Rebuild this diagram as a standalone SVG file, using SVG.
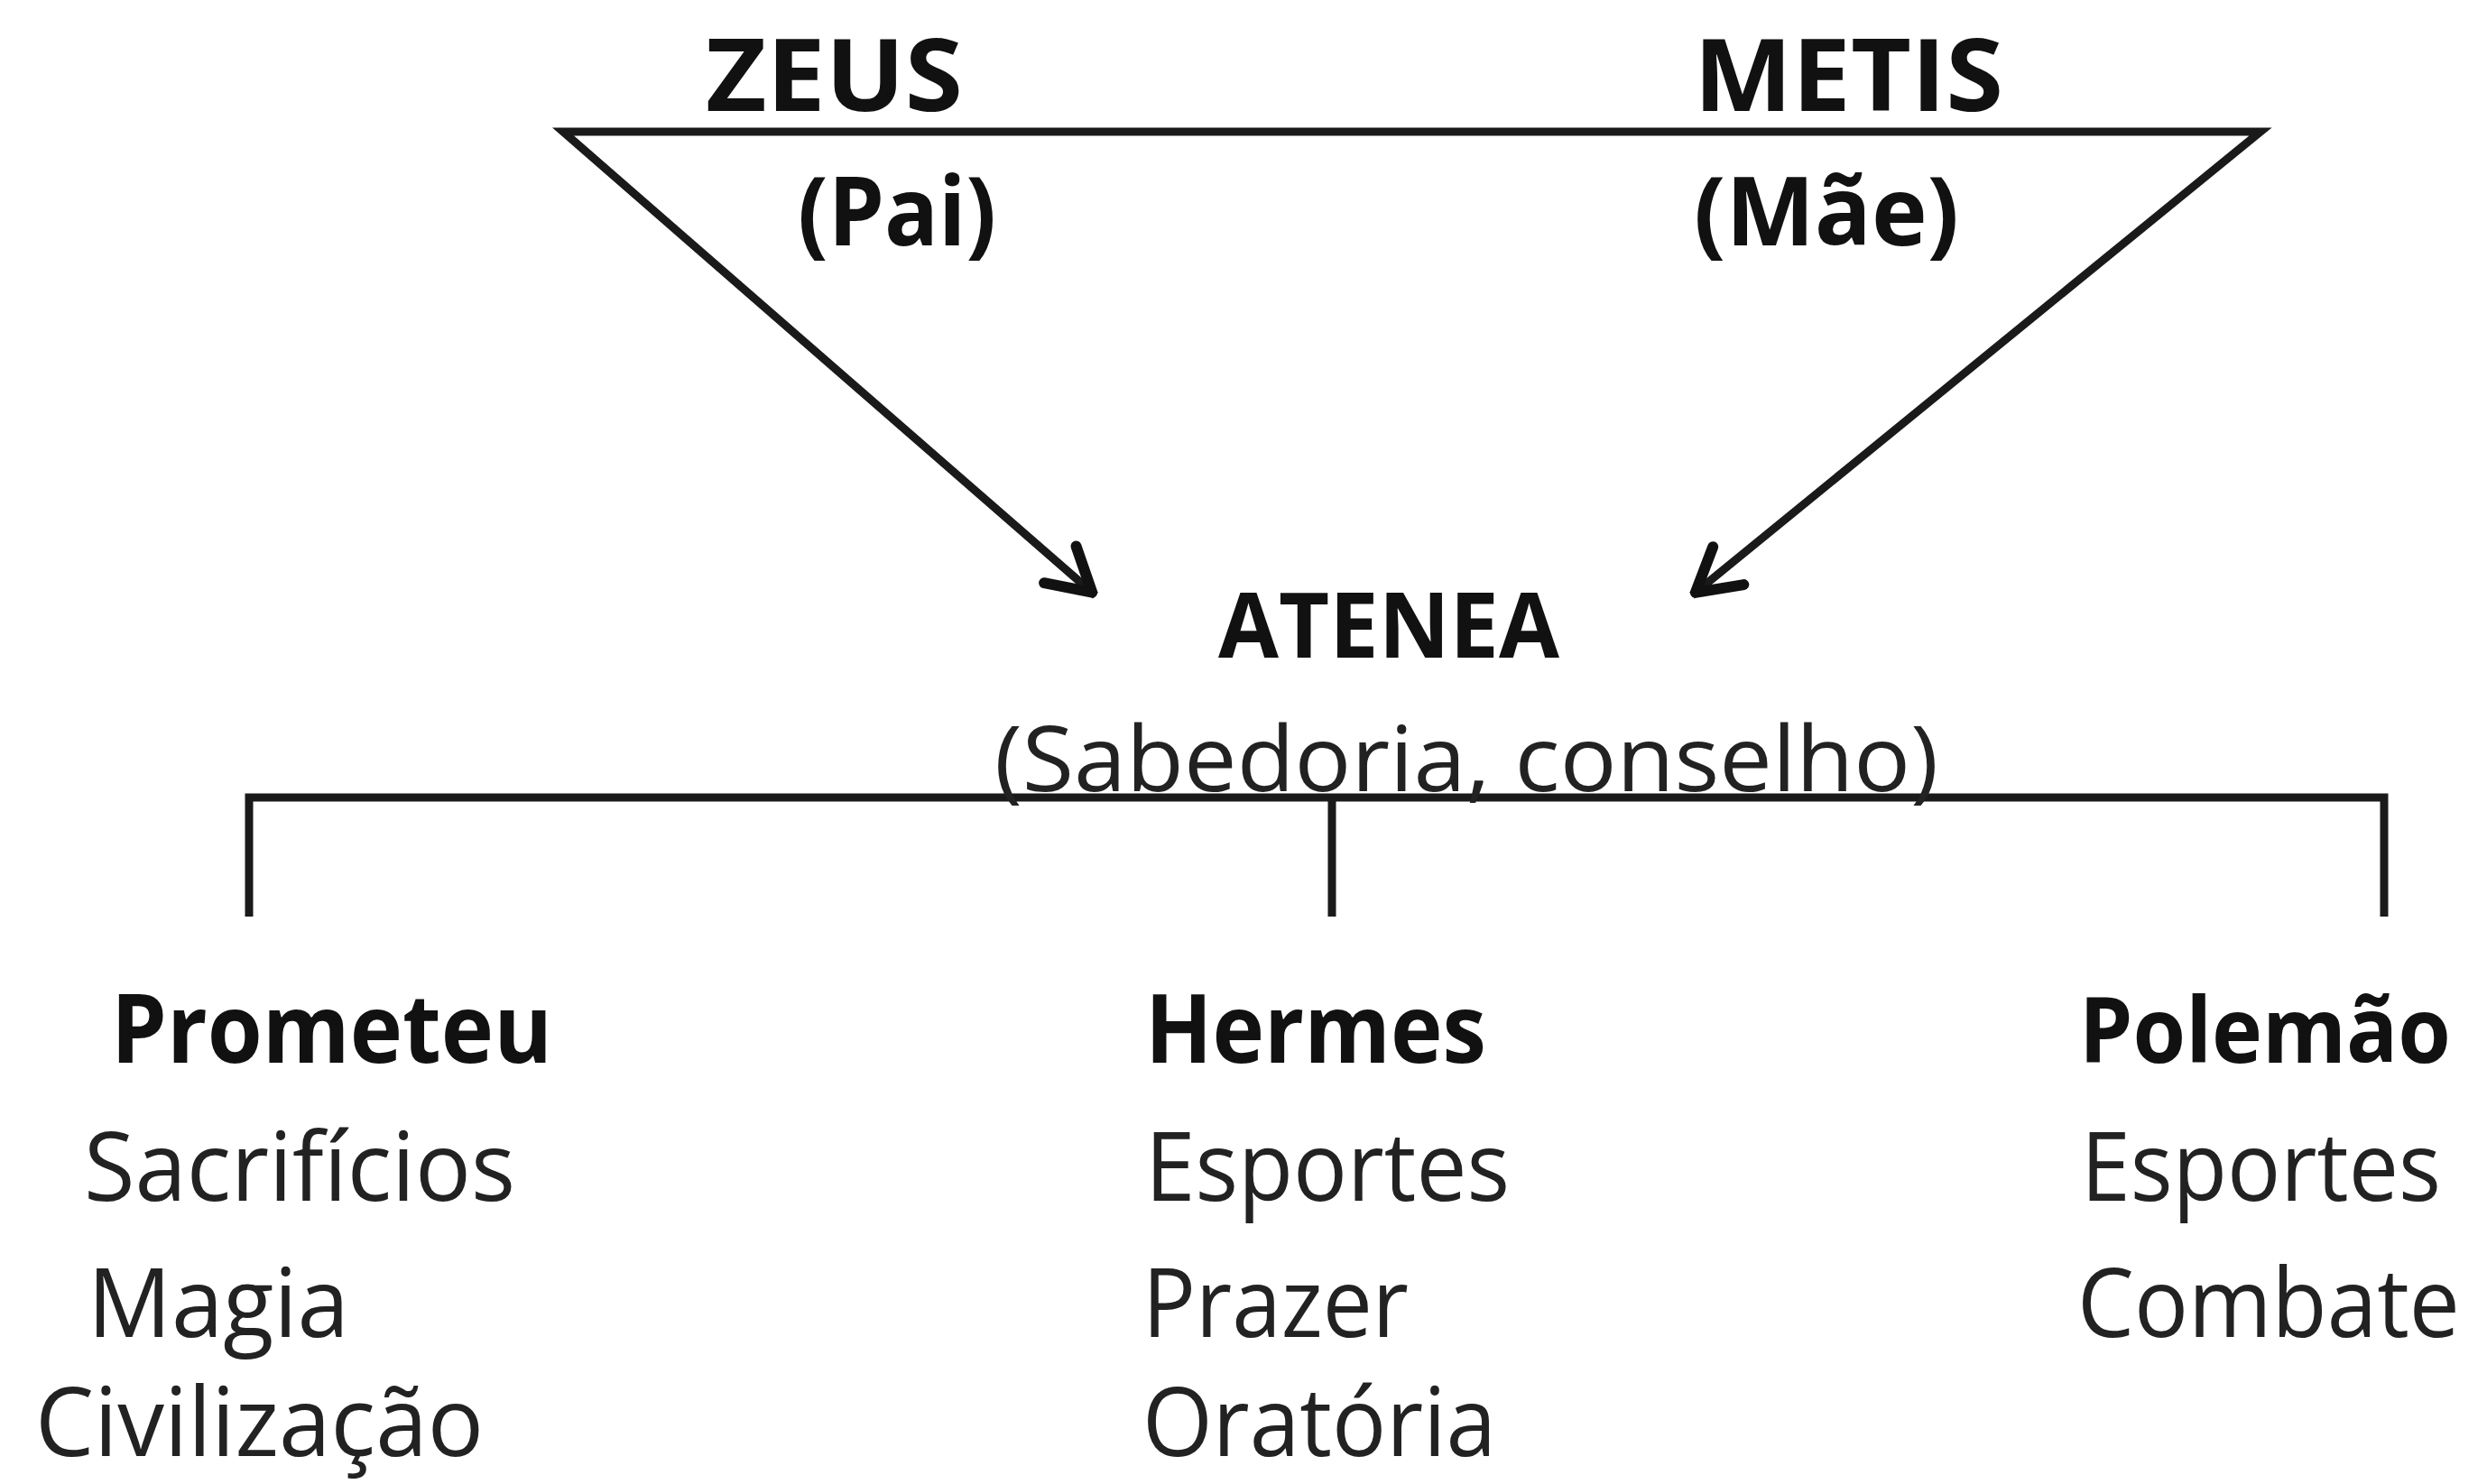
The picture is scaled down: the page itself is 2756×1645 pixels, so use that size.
<svg xmlns="http://www.w3.org/2000/svg" width="2756" height="1645" viewBox="0 0 2756 1645">
<style>
text{font-family:"Open Sans","Noto Sans","Liberation Sans",sans-serif;font-size:106px;fill:#222}
.b{font-weight:bold;fill:#111}
.ln{fill:none;stroke:#1a1a1a;stroke-width:9}
</style>
<defs>
<marker id="arr" markerUnits="userSpaceOnUse" viewBox="-70 -45 80 90" refX="0" refY="0" markerWidth="80" markerHeight="90" orient="auto-start-reverse">
<path d="M-52,-27 L-5,0 L-52,27" fill="none" stroke="#111" stroke-width="12" stroke-linecap="round" stroke-linejoin="round"/>
</marker>
</defs>
<rect width="2756" height="1645" fill="#fff"/>
<g id="connectors">
<path class="ln" d="M1214,660 L624,146 L2505,146 L1875,660" marker-start="url(#arr)" marker-end="url(#arr)"/>
<path class="ln" d="M276,1016 V884 H2642 V1016"/>
<path class="ln" d="M1476,884 V1016"/>
</g>
<g id="zeus"><text class="b" x="782" y="123" textLength="285" lengthAdjust="spacingAndGlyphs" style="font-size:112px">ZEUS</text>
<text class="b" x="884" y="272" textLength="220" lengthAdjust="spacingAndGlyphs">(Pai)</text></g>
<g id="metis"><text class="b" x="1877" y="123" textLength="343" lengthAdjust="spacingAndGlyphs" style="font-size:112px">METIS</text>
<text class="b" x="1877" y="272" textLength="294" lengthAdjust="spacingAndGlyphs">(Mãe)</text></g>
<g id="atenea"><text class="b" x="1350" y="729" textLength="378" lengthAdjust="spacingAndGlyphs" style="font-size:100px">ATENEA</text>
<text x="1102" y="877" textLength="1046" lengthAdjust="spacingAndGlyphs" style="font-size:100px">(Sabedoria, conselho)</text></g>
<g id="prometeu"><text class="b" x="123" y="1178" textLength="489" lengthAdjust="spacingAndGlyphs">Prometeu</text>
<text x="93" y="1331" textLength="478" lengthAdjust="spacingAndGlyphs">Sacrifícios</text>
<text x="97" y="1482" textLength="290" lengthAdjust="spacingAndGlyphs">Magia</text>
<text x="39" y="1614" textLength="497" lengthAdjust="spacingAndGlyphs">Civilização</text></g>
<g id="hermes"><text class="b" x="1269" y="1178" textLength="378" lengthAdjust="spacingAndGlyphs">Hermes</text>
<text x="1269" y="1331" textLength="404" lengthAdjust="spacingAndGlyphs">Esportes</text>
<text x="1266" y="1482" textLength="295" lengthAdjust="spacingAndGlyphs">Prazer</text>
<text x="1266" y="1614" textLength="392" lengthAdjust="spacingAndGlyphs">Oratória</text></g>
<g id="polemao"><text class="b" x="2304" y="1178" textLength="412" lengthAdjust="spacingAndGlyphs" style="font-size:100px">Polemão</text>
<text x="2306" y="1331" textLength="399" lengthAdjust="spacingAndGlyphs">Esportes</text>
<text x="2302" y="1482" textLength="424" lengthAdjust="spacingAndGlyphs">Combate</text></g>
</svg>
